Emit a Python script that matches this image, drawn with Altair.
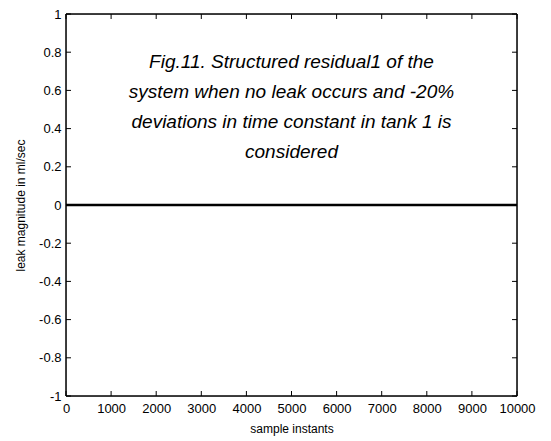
import altair as alt
import pandas as pd

x_vals = [0, 10000]
y_vals = [0, 0]
x_ticks = [0, 1000, 2000, 3000, 4000, 5000, 6000, 7000, 8000, 9000, 10000]
y_ticks = [-1, -0.8, -0.6, -0.4, -0.2, 0, 0.2, 0.4, 0.6, 0.8, 1]
caption = ["Fig.11. Structured residual1 of the",
           "system when no leak occurs and -20%",
           "deviations in time constant in tank 1 is",
           "considered"]
caption_x = 5000
caption_y = 0.75

W, H = 451, 382
FONT = "Liberation Sans"

line_df = pd.DataFrame({"x": x_vals, "y": y_vals})
xt = pd.DataFrame({"x": x_ticks})
yt = pd.DataFrame({"y": y_ticks})
cap_df = pd.DataFrame({"x": [caption_x], "y": [caption_y], "t": [caption]})

xs = alt.Scale(domain=[0, 10000], nice=False, zero=False)
ys = alt.Scale(domain=[-1, 1], nice=False, zero=False)

common = dict(tickSize=0, labelFontSize=13, titleFontSize=12, titleFontWeight="normal",
              labelFont=FONT, titleFont=FONT, domain=False, grid=False,
              labelColor="black", titleColor="black", labelOverlap=False,
              labelFlush=False, labelExpr="datum.value + ''")
ax_x = alt.Axis(values=x_ticks, title="sample instants", labelPadding=6, titlePadding=8, **common)
ax_y = alt.Axis(values=y_ticks, title="leak magnitude in ml/sec", labelPadding=5,
                titlePadding=11, **common)

X = lambda: alt.X("x:Q", scale=xs, axis=ax_x)
Y = lambda: alt.Y("y:Q", scale=ys, axis=ax_y)

line = alt.Chart(line_df).mark_line(color="black", strokeWidth=2.5).encode(x=X(), y=Y())

tl = 5
xb = alt.Chart(xt).mark_rule(color="black", strokeWidth=1).encode(
    x=X(), y=alt.value(H), y2=alt.value(H - tl))
xtop = alt.Chart(xt).mark_rule(color="black", strokeWidth=1).encode(
    x=X(), y=alt.value(0), y2=alt.value(tl))
yl = alt.Chart(yt).mark_rule(color="black", strokeWidth=1).encode(
    y=Y(), x=alt.value(0), x2=alt.value(tl))
yr = alt.Chart(yt).mark_rule(color="black", strokeWidth=1).encode(
    y=Y(), x=alt.value(W), x2=alt.value(W - tl))

border_df = pd.DataFrame({"k": [0]})
b_top = alt.Chart(border_df).mark_rule(color="black", strokeWidth=1.5).encode(
    x=alt.value(0), x2=alt.value(W), y=alt.value(0))
b_bot = alt.Chart(border_df).mark_rule(color="black", strokeWidth=1.5).encode(
    x=alt.value(0), x2=alt.value(W), y=alt.value(H))
b_left = alt.Chart(border_df).mark_rule(color="black", strokeWidth=1.5).encode(
    y=alt.value(0), y2=alt.value(H), x=alt.value(0))
b_right = alt.Chart(border_df).mark_rule(color="black", strokeWidth=1.5).encode(
    y=alt.value(0), y2=alt.value(H), x=alt.value(W))

cap = alt.Chart(cap_df).mark_text(font=FONT, fontSize=19, fontStyle="italic", color="black",
                                  align="center", baseline="middle", lineHeight=30).encode(
    x=X(), y=Y(), text="t")

chart = alt.layer(line, xb, xtop, yl, yr, b_top, b_bot, b_left, b_right, cap).properties(
    width=W, height=H,
    autosize=alt.AutoSizeParams(type="none"),
    padding={"left": 58, "top": 6, "right": 26, "bottom": 45},
).configure_view(stroke=None).configure(background="white")

chart.save("out.html", embed_options={"renderer": "svg", "actions": False})
